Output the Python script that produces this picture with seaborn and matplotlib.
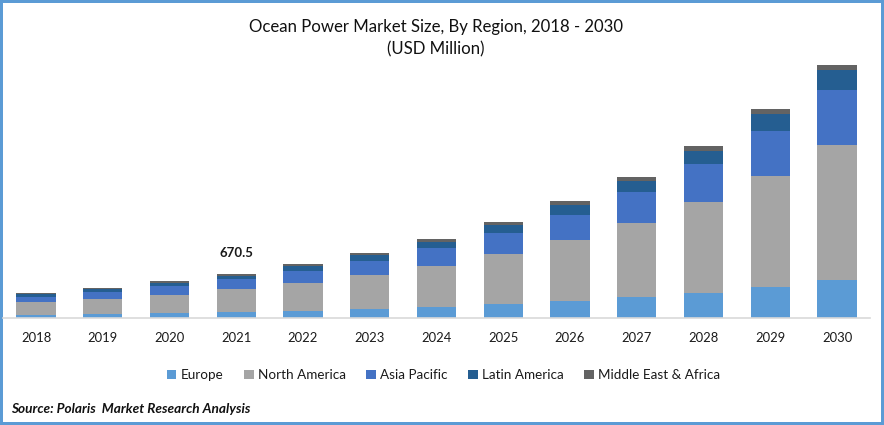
import numpy as np
import pandas as pd
import seaborn as sns
import matplotlib.pyplot as plt

# values (USD million)
years = [str(y) for y in range(2018, 2031)]
europe = [46, 61, 76, 91.4, 107, 137, 168, 213, 259, 320, 381, 472, 579]
north_america = [198, 229, 274, 350.5, 427, 518, 625, 762, 930, 1128, 1387, 1692, 2057]
asia_pacific = [76, 107, 137, 152.4, 183, 213, 274, 320, 381, 472, 579, 686, 838]
latin_america = [50, 41, 46, 45.7, 76, 91, 91, 122, 152, 168, 198, 259, 305]
middle_east = [11, 20, 30, 30.5, 30, 30, 46, 46, 61, 61, 76, 76, 76]

regions = ["Europe", "North America", "Asia Pacific", "Latin America", "Middle East & Africa"]
series = [europe, north_america, asia_pacific, latin_america, middle_east]
colors = ["#5B9BD5", "#A5A5A5", "#4472C4", "#255E91", "#636363"]


def main():
    sns.set_theme(style="white")
    plt.rcParams["font.family"] = ["Lato", "DejaVu Sans"]

    # figure edge doubles as the blue frame
    fig = plt.figure(figsize=(8.84, 4.25), dpi=100, facecolor="white",
                     edgecolor="#5B9BD5", linewidth=2.9)
    ax = fig.add_axes([2.6 / 884, 1 - 318 / 425, 867.8 / 884, 262.5 / 425])

    # stacked bars, one barplot call for every region
    bottom = np.zeros(len(years))
    for name, values, color in zip(regions, series, colors):
        df = pd.DataFrame({"year": years, "value": values})
        sns.barplot(data=df, x="year", y="value", color=color, saturation=1,
                    width=0.585, bottom=bottom, label=name, legend=False,
                    linewidth=0, edgecolor="none", ax=ax)
        bottom = bottom + np.array(values)

    ax.set_xlim(-0.5, 12.5)
    ax.set_ylim(0, 4000)
    ax.set_xlabel("")
    ax.set_ylabel("")
    ax.set_yticks([])
    ax.tick_params(axis="x", length=0, pad=10, labelsize=9.4, labelcolor="#1a1a1a")
    sns.despine(ax=ax, left=True)
    ax.spines["bottom"].set_color("#D9D9D9")
    ax.spines["bottom"].set_linewidth(1.2)

    ax.annotate("670.5", xy=(3, 670.5), xytext=(0, 10.5), textcoords="offset points",
                ha="center", va="bottom", fontsize=9.5, fontweight="bold", color="#1a1a1a")

    fig.text(436 / 884, 1 - 27 / 425, "Ocean Power Market Size, By Region, 2018 - 2030",
             ha="center", va="center", fontsize=12.1, color="#111111")
    fig.text(436 / 884, 1 - 49 / 425, "(USD Million)",
             ha="center", va="center", fontsize=12.1, color="#111111")
    fig.text(11 / 884, 1 - 409 / 425, "Source: Polaris  Market Research Analysis",
             ha="left", va="center", fontsize=9.8, fontweight="bold", fontstyle="italic",
             color="#111111")

    handles, labels = ax.get_legend_handles_labels()
    fig.legend(handles, labels, loc="center", bbox_to_anchor=(443.5 / 884, 1 - 375 / 425),
               ncol=5, frameon=False, fontsize=9.7, handlelength=0.7, handleheight=0.7,
               handletextpad=0.3, columnspacing=1.55, labelcolor="#1a1a1a")

    fig.savefig("out.png", dpi=100, facecolor=fig.get_facecolor(), edgecolor=fig.get_edgecolor())


if __name__ == "__main__":
    main()
